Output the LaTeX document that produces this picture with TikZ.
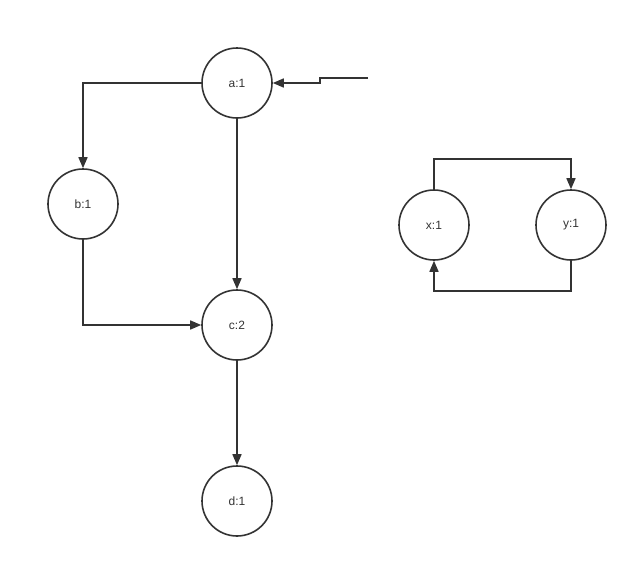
\documentclass[tikz,border=0pt]{standalone}
\usepackage{fontspec}
\setmainfont{Liberation Sans}
\usepackage{tikz}
\usetikzlibrary{arrows.meta, positioning}

\begin{document}
\begin{tikzpicture}[x=1pt,y=-1pt,
    -{Triangle[length=11pt,width=9pt]},line width=1.6pt,draw={black!80},
    vertex/.style={circle,draw,line width=1.6pt,minimum size=70pt,inner sep=0pt,
        font=\fontsize{12}{14}\selectfont,text=black!80}]
    \useasboundingbox (0,0) rectangle (638,568);

    \node[vertex] (a) at (237,83) {a:1};
    \node[vertex] (b) at (83,204) {b:1};
    \node[vertex] (c) at (237,325) {c:2};
    \node[vertex] (d) at (237,501) {d:1};
    \node[vertex] (x) at (434,225) {x:1};
    \node[vertex] (y) at (571,225) {y:1};
    \coordinate (in) at (368,78);

    \draw (in) -- ++(-48,0) |- (a);
    \draw (a) -| (b);
    \draw (a) -- (c);
    \draw (b) |- (c);
    \draw (c) -- (d);
    \draw (x.north) -- ++(0,-30) -| (y.north);
    \draw (y.south) -- ++(0,30) -| (x.south);
\end{tikzpicture}
\end{document}
